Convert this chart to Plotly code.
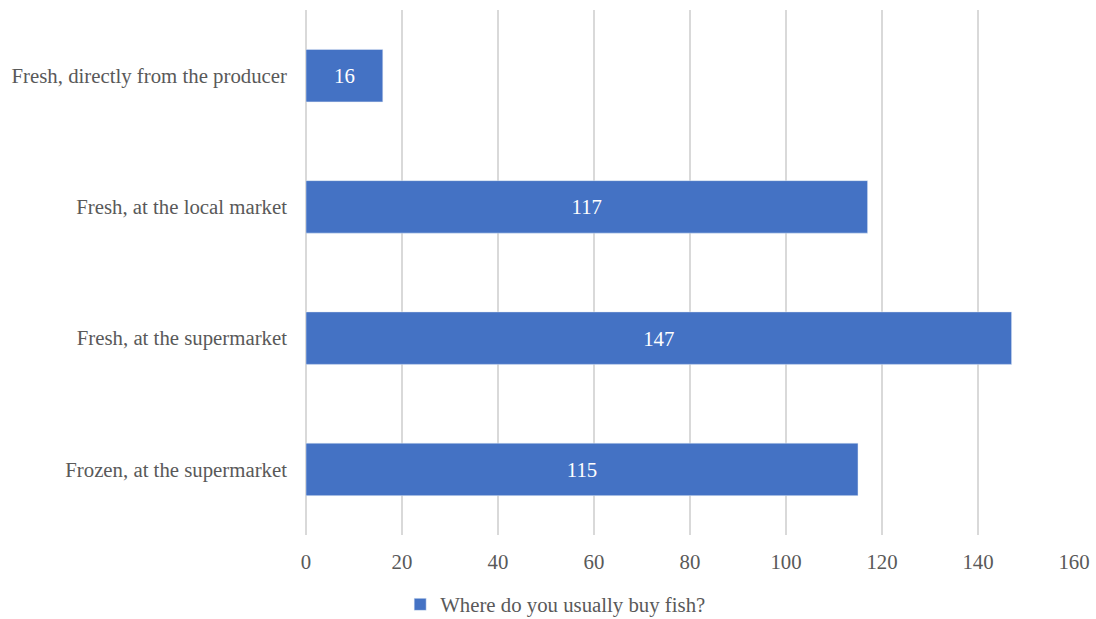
import plotly.graph_objects as go

categories = ["Frozen, at the supermarket", "Fresh, at the supermarket",
              "Fresh, at the local market", "Fresh, directly from the producer"]
values = [115, 147, 117, 16]
series_name = "Where do you usually buy fish?"

font_family = "Liberation Serif, Times New Roman, serif"
fs = 20.8

fig = go.Figure()
fig.add_trace(go.Bar(
    y=categories, x=values, orientation="h", name=series_name,
    marker=dict(color="#4472C4"),
    text=[str(v) for v in values], textposition="inside", insidetextanchor="middle",
    textfont=dict(color="white", size=fs, family=font_family),
    showlegend=True,
))
fig.update_layout(
    width=1096, height=619,
    margin=dict(l=306, r=22, t=10, b=84, autoexpand=False),
    paper_bgcolor="white", plot_bgcolor="white",
    bargap=0.6,
    font=dict(family=font_family, size=fs, color="#595959"),
    xaxis=dict(range=[0, 160], dtick=20, showgrid=True, gridcolor="#D9D9D9", gridwidth=1.5,
               zeroline=True, zerolinecolor="#D9D9D9", zerolinewidth=1.5,
               showline=False, ticks="", ticklabelstandoff=12, automargin=False,
               tickfont=dict(size=fs, color="#595959")),
    yaxis=dict(showgrid=False, zeroline=False, showline=False, ticks="", automargin=False,
               ticklabelstandoff=18, tickfont=dict(size=fs, color="#595959")),
    legend=dict(orientation="h", x=0.507, xref="container", xanchor="center",
                y=-0.133, yref="paper", yanchor="middle",
                font=dict(size=fs, color="#595959"), itemwidth=30),
    uniformtext=dict(mode=False),
)
fig.write_html("out.html")
